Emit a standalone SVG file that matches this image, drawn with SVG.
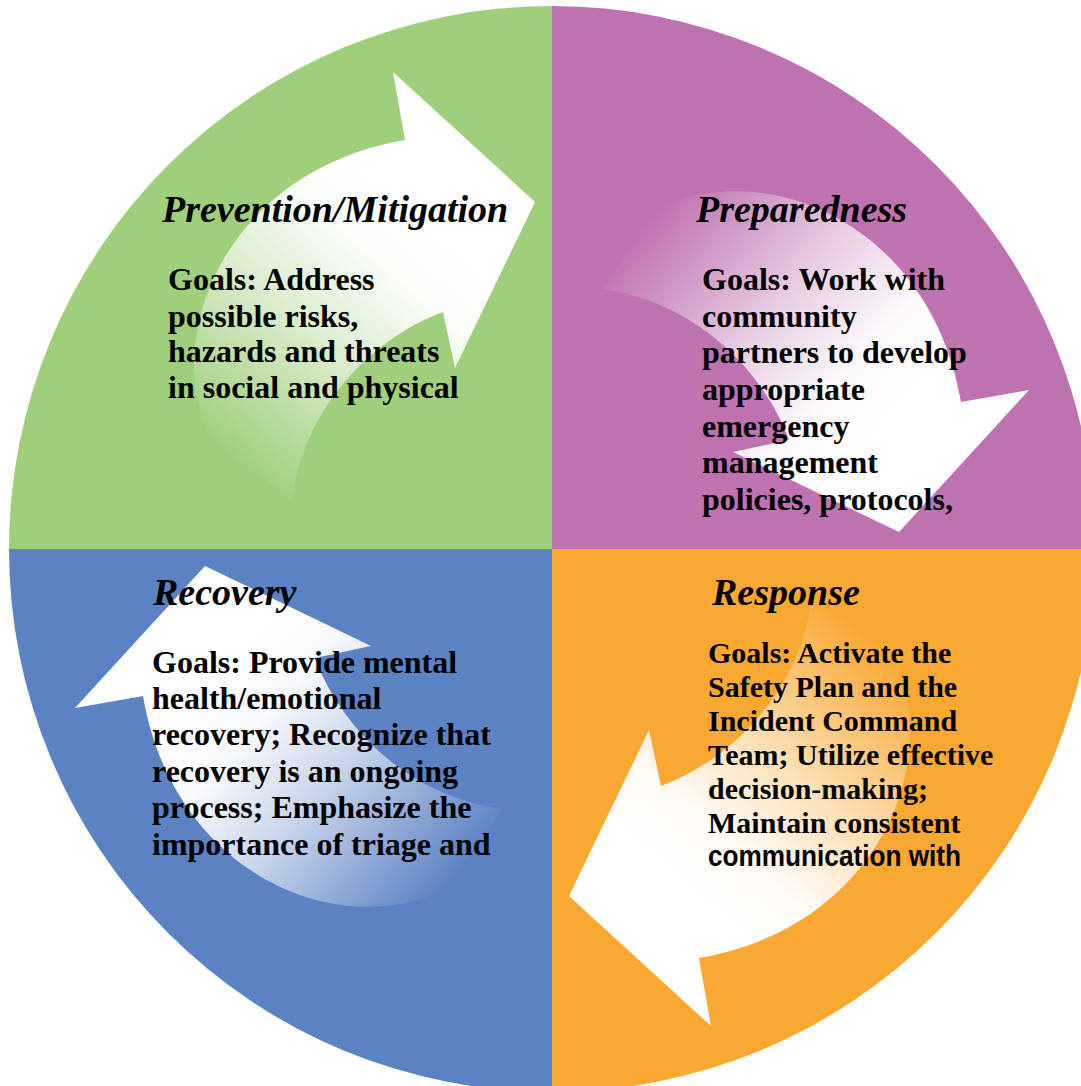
<svg xmlns="http://www.w3.org/2000/svg" xmlns:xlink="http://www.w3.org/1999/xlink" width="1081" height="1086" viewBox="0 0 1081 1086">
<style>
.title{font-family:"Liberation Serif","Times New Roman",serif;font-weight:bold;font-style:italic;font-size:38px;fill:#000}
.body{font-family:"Liberation Serif","Times New Roman",serif;font-weight:bold;font-size:32px;fill:#000}
.body30{font-family:"Liberation Serif","Times New Roman",serif;font-weight:bold;font-size:30px;fill:#000}
.sans{font-family:"Liberation Sans",Arial,sans-serif;font-weight:bold;font-size:30px;fill:#000}
</style>
<defs>
<linearGradient id="fade" gradientUnits="userSpaceOnUse" x1="225" y1="455" x2="430" y2="220">
<stop offset="0" stop-color="#fff" stop-opacity="0"/>
<stop offset="0.2" stop-color="#fff" stop-opacity="0.25"/>
<stop offset="0.5" stop-color="#fff" stop-opacity="0.65"/>
<stop offset="0.8" stop-color="#fff" stop-opacity="0.95"/>
<stop offset="1" stop-color="#fff" stop-opacity="1"/>
</linearGradient>
<path id="arrow" fill="url(#fade)" d="M393,72 L535,202 L455,368 L443,312 C380,335 305,400 292,500 L210,440 C160,330 230,170 405,140 Z"/>
</defs>
<rect width="1081" height="1086" fill="#fff"/>
<g id="prevention">
<path d="M552,549 L552,6 A543,543 0 0 0 9,549 Z" fill="#A0CF7B"/>
<use xlink:href="#arrow" href="#arrow"/>
<text class="title" x="162" y="222">Prevention/Mitigation</text>
<text class="body" x="168" y="290">Goals: Address</text>
<text class="body" x="168" y="327">possible risks,</text>
<text class="body" x="168" y="362">hazards and threats</text>
<text class="body" x="168" y="398">in social and physical</text>
</g>
<g id="preparedness">
<path d="M552,549 L1095,549 A543,543 0 0 0 552,6 Z" fill="#BE72B0"/>
<use xlink:href="#arrow" href="#arrow" transform="rotate(90 552 549)"/>
<text class="title" x="696" y="222">Preparedness</text>
<text class="body" x="702" y="290">Goals: Work with</text>
<text class="body" x="702" y="327">community</text>
<text class="body" x="702" y="363">partners to develop</text>
<text class="body" x="702" y="400">appropriate</text>
<text class="body" x="702" y="437">emergency</text>
<text class="body" x="702" y="473">management</text>
<text class="body" x="702" y="510">policies, protocols,</text>
</g>
<g id="recovery">
<path d="M552,549 L9,549 A543,543 0 0 0 552,1092 Z" fill="#5B82C3"/>
<use xlink:href="#arrow" href="#arrow" transform="rotate(-90 552 549)"/>
<text class="title" x="153" y="605">Recovery</text>
<text class="body" x="152" y="673">Goals: Provide mental</text>
<text class="body" x="152" y="709">health/emotional</text>
<text class="body" x="152" y="745">recovery; Recognize that</text>
<text class="body" x="152" y="782">recovery is an ongoing</text>
<text class="body" x="152" y="818">process; Emphasize the</text>
<text class="body" x="152" y="855">importance of triage and</text>
</g>
<g id="response">
<path d="M552,549 L552,1092 A543,543 0 0 0 1095,549 Z" fill="#F9A832"/>
<use xlink:href="#arrow" href="#arrow" transform="rotate(180 552 549)"/>
<text class="title" x="712" y="605">Response</text>
<text class="body30" x="708" y="663">Goals: Activate the</text>
<text class="body30" x="708" y="697">Safety Plan and the</text>
<text class="body30" x="708" y="731">Incident Command</text>
<text class="body30" x="708" y="765">Team; Utilize effective</text>
<text class="body30" x="708" y="799">decision-making;</text>
<text class="body30" x="708" y="833">Maintain consistent</text>
<text class="sans" x="708" y="866" textLength="253" lengthAdjust="spacingAndGlyphs">communication with</text>
</g>
<g id="connectors"/>
</svg>
